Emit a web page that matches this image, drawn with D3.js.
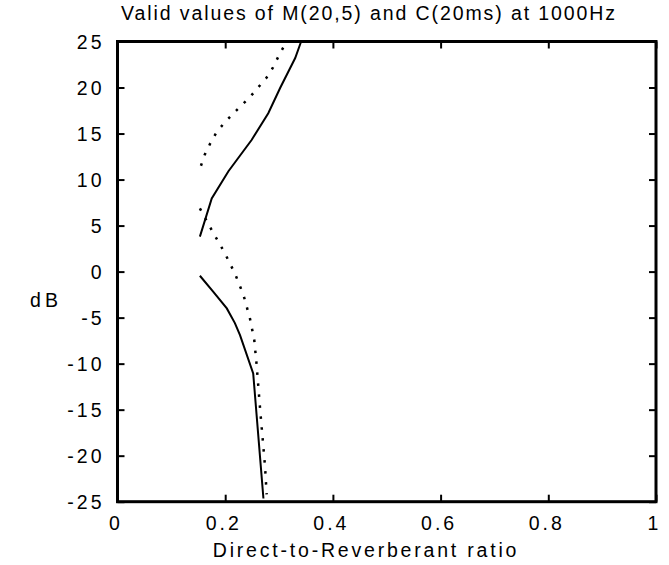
<!DOCTYPE html>
<html>
<head>
<meta charset="utf-8">
<script src="https://cdn.jsdelivr.net/npm/d3@7"></script>
<style>
    body { margin: 0; background: #fff; }
    text { font-family: "Liberation Sans", Arial, sans-serif; fill: #000; }
</style>
</head>
<body>
<div id="container"></div>
<script>
window.onload = function() {
    'use strict';

    // [ratio, dB]
    const solidUpper = [[0.153, 3.8], [0.175, 7.95], [0.206, 10.9], [0.249, 14.3],
                        [0.28, 17.2], [0.302, 19.95], [0.33, 23.2], [0.341, 25]];
    const solidLower = [[0.153, -0.45], [0.178, -2.2], [0.203, -4.0], [0.218, -5.6],
                        [0.2275, -6.9], [0.252, -11.07], [0.271, -24.65]];
    const dottedUpper = [[0.155, 11.5], [0.162, 12.7], [0.172, 13.9], [0.183, 15.05],
                         [0.196, 16.0], [0.212, 17.0], [0.229, 18.0], [0.245, 18.9],
                         [0.261, 20.0], [0.276, 21.0], [0.288, 22.1], [0.299, 23.4], [0.312, 24.8]];
    const dottedLower = [[0.153, 6.87], [0.175, 4.5], [0.198, 2.15], [0.218, -0.2],
                         [0.234, -2.55], [0.246, -5.1], [0.254, -7.45], [0.258, -9.9],
                         [0.265, -15.05], [0.274, -21.2], [0.277, -24.2]];

    const xTicks = [0, 0.2, 0.4, 0.6, 0.8, 1];
    const yTicks = [-25, -20, -15, -10, -5, 0, 5, 10, 15, 20, 25];

    const canvas = { width: 669, height: 565 };
    const plot = { left: 117.5, right: 656, top: 41.5, bottom: 501.7 };

    const svg = d3.select('#container')
        .append('svg')
        .attr('width', canvas.width)
        .attr('height', canvas.height);

    const x = d3.scaleLinear().domain([0, 1]).range([plot.left, plot.right]);
    const y = d3.scaleLinear().domain([-25, 25]).range([plot.bottom, plot.top]);

    const tickLs = 3;
    const plain = d => String(d);  // hyphen, not the unicode minus

    function styleAxis(g) {
        g.select('.domain').remove();
        g.selectAll('.tick line').attr('stroke', '#000').attr('stroke-width', 2);
        g.selectAll('.tick text')
            .style('font-size', '19.5px')
            .style('letter-spacing', tickLs + 'px')
            .attr('fill', '#000');
    }

    // left
    svg.append('g')
        .attr('transform', `translate(${plot.left},0)`)
        .call(d3.axisLeft(y).tickValues(yTicks).tickSizeInner(-7).tickSizeOuter(0).tickPadding(13)
            .tickFormat(plain))
        .call(styleAxis)
        .selectAll('.tick text').attr('dy', '0.36em');

    // bottom
    svg.append('g')
        .attr('transform', `translate(0,${plot.bottom})`)
        .call(d3.axisBottom(x).tickValues(xTicks).tickSizeInner(-7).tickSizeOuter(0).tickPadding(14)
            .tickFormat(plain))
        .call(styleAxis)
        .selectAll('.tick text').attr('dx', '-2px');

    // mirrored ticks
    svg.append('g')
        .attr('transform', `translate(${plot.right},0)`)
        .call(d3.axisRight(y).tickValues(yTicks).tickSizeInner(-7).tickSizeOuter(0).tickFormat(''))
        .call(styleAxis);
    svg.append('g')
        .attr('transform', `translate(0,${plot.top})`)
        .call(d3.axisTop(x).tickValues(xTicks).tickSizeInner(-7).tickSizeOuter(0).tickFormat(''))
        .call(styleAxis);

    // frame
    svg.append('rect')
        .attr('x', plot.left)
        .attr('y', plot.top)
        .attr('width', plot.right - plot.left)
        .attr('height', plot.bottom - plot.top)
        .attr('fill', 'none')
        .attr('stroke', '#000')
        .attr('stroke-width', 3);

    const line = d3.line().x(d => x(d[0])).y(d => y(d[1]));

    function drawSeries(data, dashed) {
        svg.append('path')
            .datum(data)
            .attr('d', line)
            .attr('fill', 'none')
            .attr('stroke', '#000')
            .attr('stroke-width', dashed ? 2.5 : 2)
            .attr('stroke-dasharray', dashed ? '2.5,8.5' : null);
    }

    drawSeries(solidUpper, false);
    drawSeries(solidLower, false);
    drawSeries(dottedUpper, true);
    drawSeries(dottedLower, true);

    svg.append('text')
        .attr('x', 369)
        .attr('y', 20)
        .attr('text-anchor', 'middle')
        .style('font-size', '19.5px')
        .style('letter-spacing', '1.9px')
        .text('Valid values of M(20,5) and C(20ms) at 1000Hz');

    svg.append('text')
        .attr('x', 366)
        .attr('y', 556.5)
        .attr('text-anchor', 'middle')
        .style('font-size', '19.5px')
        .style('letter-spacing', '2.8px')
        .text('Direct-to-Reverberant ratio');

    svg.append('text')
        .attr('x', 46)
        .attr('y', 306.5)
        .attr('text-anchor', 'middle')
        .style('font-size', '19.5px')
        .style('letter-spacing', '4px')
        .text('dB');
};
</script>
</body>
</html>
